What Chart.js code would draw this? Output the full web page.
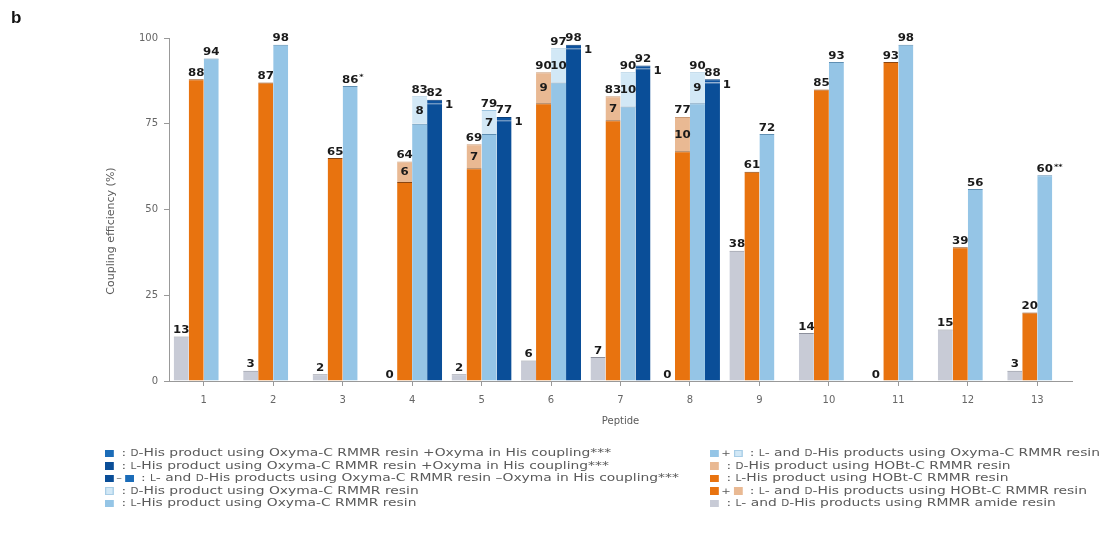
<!DOCTYPE html>
<html>
<head>
<meta charset="utf-8">
<script src="https://cdn.jsdelivr.net/npm/chart.js@4.4.1/dist/chart.umd.min.js"></script>
<style>
  body { margin: 0; background: #fff; }
  #wrap { position: relative; width: 1112px; height: 559px; overflow: hidden; font-family: 'DejaVu Sans', sans-serif; }
  #chart { position: absolute; left: 0; top: 0; }
  .panel { position: absolute; left: 11px; top: 8px; font: bold 17px 'Liberation Sans', sans-serif; color: #111; }
  .legend { position: absolute; top: 447px; font-size: 11px; color: #5a5a5a; transform-origin: 0 0; transform: scaleX(1.26); }
  .legend div { height: 12.5px; line-height: 12.5px; white-space: nowrap; display: flex; align-items: center; }
  .sw { display: inline-block; width: 7px; height: 7.5px; margin-right: 2px; }
  .sep { margin: 0 2px 0 0; font-size: 9px; }
  .sc { font-size: 0.75em; }
  .txt { margin-left: 4px; }
</style>
</head>
<body>
<div id="wrap">
  <canvas id="chart" width="1112" height="559"></canvas>
  <div class="panel">b</div>
  <div class="legend" style="left:105px">
    <div><span class="sw" style="background:#1b6cb8"></span><span class="txt">: <span class="sc">D</span>-His product using Oxyma-C RMMR resin +Oxyma in His coupling***</span></div>
    <div><span class="sw" style="background:#0a4e98"></span><span class="txt">: <span class="sc">L</span>-His product using Oxyma-C RMMR resin +Oxyma in His coupling***</span></div>
    <div><span class="sw" style="background:#0a4e98"></span><span class="sep">–</span><span class="sw" style="background:#1b6cb8"></span><span class="txt">: <span class="sc">L</span>- and <span class="sc">D</span>-His products using Oxyma-C RMMR resin –Oxyma in His coupling***</span></div>
    <div><span class="sw" style="background:#d2e8f6;box-shadow:inset 0 0 0 1px #a8cde6"></span><span class="txt">: <span class="sc">D</span>-His product using Oxyma-C RMMR resin</span></div>
    <div><span class="sw" style="background:#95c5e6"></span><span class="txt">: <span class="sc">L</span>-His product using Oxyma-C RMMR resin</span></div>
  </div>
  <div class="legend" style="left:710px">
    <div><span class="sw" style="background:#95c5e6"></span><span class="sep">+</span><span class="sw" style="background:#d2e8f6;box-shadow:inset 0 0 0 1px #a8cde6"></span><span class="txt">: <span class="sc">L</span>- and <span class="sc">D</span>-His products using Oxyma-C RMMR resin</span></div>
    <div><span class="sw" style="background:#e9b993"></span><span class="txt">: <span class="sc">D</span>-His product using HOBt-C RMMR resin</span></div>
    <div><span class="sw" style="background:#e8730f"></span><span class="txt">: <span class="sc">L</span>-His product using HOBt-C RMMR resin</span></div>
    <div><span class="sw" style="background:#e8730f"></span><span class="sep">+</span><span class="sw" style="background:#e9b993"></span><span class="txt">: <span class="sc">L</span>- and <span class="sc">D</span>-His products using HOBt-C RMMR resin</span></div>
    <div><span class="sw" style="background:#c8cbd6"></span><span class="txt">: <span class="sc">L</span>- and <span class="sc">D</span>-His products using RMMR amide resin</span></div>
  </div>
</div>
<script>
// valores (eficiencia de acoplamento, %)
const peptides = ['1', '2', '3', '4', '5', '6', '7', '8', '9', '10', '11', '12', '13'];
const amideResin = [13, 3, 2, 0, 2, 6, 7, 0, 38, 14, 0, 15, 3];
const hobtL = [88, 87, 65, 58, 62, 81, 76, 67, 61, 85, 93, 39, 20];
const hobtD = [null, null, null, 6, 7, 9, 7, 10, null, null, null, null, null];
const oxymaL = [94, 98, 86, 75, 72, 87, 80, 81, 72, 93, 98, 56, 60];
const oxymaD = [null, null, null, 8, 7, 10, 10, 9, null, null, null, null, null];
const oxymaNotes = ['', '', '*', '', '', '', '', '', '', '', '', '', '**'];
const oxymaPlusL = [null, null, null, 81, 76, 97, 91, 87, null, null, null, null, null];
const oxymaPlusD = [null, null, null, 1, 1, 1, 1, 1, null, null, null, null, null];
const yTicks = [0, 25, 50, 75, 100];

Chart.defaults.font.family = "'DejaVu Sans', sans-serif";

// texto esticado na horizontal, como na figura original
function wideText(ctx, txt, x, y, baseline) {
  ctx.save();
  ctx.translate(x, y);
  ctx.scale(1.18, 1);
  ctx.textBaseline = baseline;
  ctx.fillText(txt, 0, 0);
  ctx.restore();
}

const barLabels = {
  id: 'barLabels',
  afterDatasetsDraw(chart) {
    const ctx = chart.ctx;
    ctx.save();
    ctx.fillStyle = '#1a1a1a';
    ctx.font = 'bold 10px "DejaVu Sans"';
    ctx.textAlign = 'center';
    chart.data.datasets.forEach((ds, i) => {
      const meta = chart.getDatasetMeta(i);
      meta.data.forEach((bar, j) => {
        const v = ds.data[j];
        if (v === null || v === undefined) return;
        if (ds.kind === 'single') {
          wideText(ctx, String(v), bar.x, bar.y - 1, 'bottom');
        } else if (ds.kind === 'base') {
          if (chart.data.datasets[i + 1].data[j] !== null) return;
          wideText(ctx, String(v), bar.x, bar.y - 1, 'bottom');
          const note = ds.notes ? ds.notes[j] : '';
          if (note) {
            const w = ctx.measureText(String(v)).width * 1.18;
            ctx.save();
            ctx.font = 'bold 7px "DejaVu Sans"';
            ctx.textAlign = 'left';
            wideText(ctx, note, bar.x + w / 2 + 1, bar.y - 5, 'bottom');
            ctx.restore();
          }
        } else {
          const base = chart.getDatasetMeta(i - 1).data[j];
          const total = chart.data.datasets[i - 1].data[j] + v;
          wideText(ctx, String(total), bar.x, bar.y - 1, 'bottom');
          if (ds.kind === 'top') {
            wideText(ctx, String(v), bar.x, (bar.y + base.y) / 2 + 1, 'middle');
          } else {
            wideText(ctx, String(v), bar.x + bar.width / 2 + 7, bar.y + 6, 'middle');
          }
        }
      });
    });
    ctx.restore();

    // titulo do eixo y (um pouco abaixo do centro, como no original)
    ctx.save();
    ctx.translate(111, 231);
    ctx.rotate(-Math.PI / 2);
    ctx.font = '11px "DejaVu Sans"';
    ctx.fillStyle = '#5a5a5a';
    ctx.textAlign = 'center';
    ctx.textBaseline = 'middle';
    ctx.fillText('Coupling efficiency (%)', 0, 0);
    ctx.restore();
  }
};

const topLine = { top: 1, right: 0, bottom: 0, left: 0 };

new Chart(document.getElementById('chart').getContext('2d'), {
  type: 'bar',
  data: {
    labels: peptides,
    datasets: [
      { data: amideResin, stack: 'amide', kind: 'single', backgroundColor: '#c8cbd6', borderColor: '#8c8f9b', borderWidth: topLine },
      { data: hobtL, stack: 'hobt', kind: 'base', backgroundColor: '#e8730f', borderColor: '#8a4510', borderWidth: topLine },
      { data: hobtD, stack: 'hobt', kind: 'top', backgroundColor: '#e9b993', borderColor: '#c99a76', borderWidth: topLine },
      { data: oxymaL, stack: 'oxyma', kind: 'base', notes: oxymaNotes, backgroundColor: '#95c5e6', borderColor: '#5f8fb3', borderWidth: topLine },
      { data: oxymaD, stack: 'oxyma', kind: 'top', backgroundColor: '#d2e8f6', borderColor: '#9cc3de', borderWidth: topLine },
      { data: oxymaPlusL, stack: 'oxymaPlus', kind: 'base', backgroundColor: '#0a4e98', borderColor: '#0a4e98', borderWidth: topLine },
      { data: oxymaPlusD, stack: 'oxymaPlus', kind: 'side', backgroundColor: '#0d529e', borderColor: '#083d78', borderWidth: topLine }
    ]
  },
  options: {
    responsive: false,
    animation: false,
    categoryPercentage: 0.864,
    barPercentage: 1.0,
    layout: { padding: { top: 38, left: 100, right: 40, bottom: 129 } },
    plugins: {
      legend: { display: false },
      tooltip: { enabled: false }
    },
    scales: {
      x: {
        afterFit(scale) { scale.height = 49; },
        grid: { drawOnChartArea: false, offset: false, tickLength: 5, color: '#999' },
        border: { color: '#999' },
        ticks: { color: '#666', font: { size: 10 }, padding: 8 },
        title: { display: true, text: 'Peptide', color: '#5a5a5a', font: { size: 10 }, padding: { top: 0, bottom: 3 } }
      },
      y: {
        stacked: true,
        min: 0,
        max: 100,
        afterFit(scale) { scale.width = 69; },
        afterBuildTicks(scale) { scale.ticks = yTicks.map(v => ({ value: v })); },
        grid: { drawOnChartArea: false, tickLength: 5, color: '#999' },
        border: { color: '#999' },
        ticks: { color: '#666', font: { size: 10 }, padding: 6 }
      }
    }
  },
  plugins: [barLabels]
});
</script>
</body>
</html>
